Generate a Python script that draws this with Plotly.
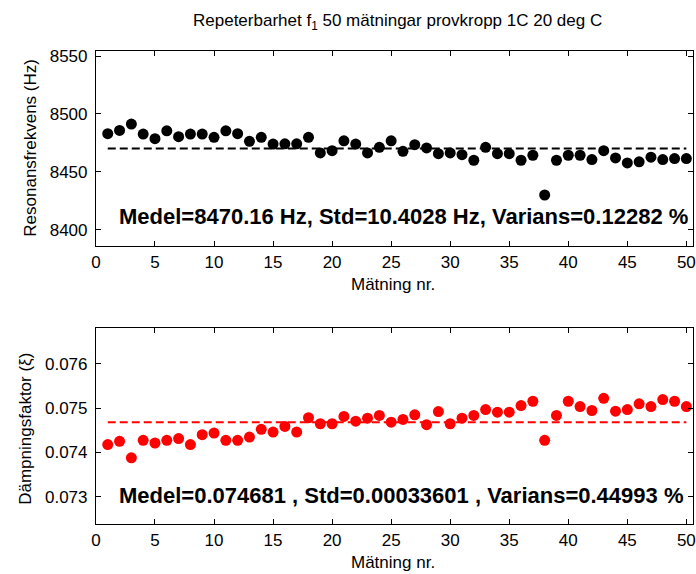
import plotly.graph_objects as go

W, H = 696, 574

matning = list(range(1, 51))
frekvens = [8482.9, 8485.7, 8491.2, 8482.6, 8478.6, 8485.4, 8480.3, 8482.6, 8482.6, 8479.8,
            8485.4, 8482.9, 8476.3, 8479.8, 8474.0, 8474.2, 8474.2, 8479.8, 8466.3, 8468.3,
            8476.8, 8474.0, 8466.3, 8471.2, 8476.8, 8467.7, 8473.4, 8470.6, 8465.7, 8466.3,
            8464.8, 8460.0, 8471.2, 8465.7, 8465.7, 8460.0, 8464.3, 8430.0, 8460.0, 8464.3,
            8464.3, 8460.6, 8468.3, 8462.0, 8457.7, 8458.6, 8462.6, 8460.6, 8461.4, 8461.4]
dampning = [0.074174, 0.074248, 0.073874, 0.074271, 0.074210, 0.074271, 0.074309, 0.074174, 0.074399, 0.074435,
            0.074271, 0.074271, 0.074345, 0.074518, 0.074457, 0.074585, 0.074457, 0.074780, 0.074645, 0.074645,
            0.074809, 0.074704, 0.074771, 0.074832, 0.074681, 0.074742, 0.074847, 0.074623, 0.074921, 0.074645,
            0.074771, 0.074832, 0.074966, 0.074906, 0.074906, 0.075056, 0.075153, 0.074271, 0.074832, 0.075153,
            0.075034, 0.074944, 0.075220, 0.074928, 0.074966, 0.075094, 0.075034, 0.075191, 0.075153, 0.075034]
medel_f = 8470.16
medel_d = 0.074681
text_f = "Medel=8470.16 Hz, Std=10.4028 Hz, Varians=0.12282 %"
text_d = "Medel=0.074681 , Std=0.00033601 , Varians=0.44993 %"
title = "Repeterbarhet f<sub>1</sub> 50 mätningar provkropp 1C 20 deg C"
xticks = list(range(0, 51, 5))
yticks_f = [8400, 8450, 8500, 8550]
yticks_d = [0.073, 0.074, 0.075, 0.076]

FONT = "Liberation Sans, Arial, sans-serif"

fig = go.Figure()
fig.add_trace(go.Scatter(x=matning, y=frekvens, mode="markers",
                         marker=dict(color="black", size=11, line=dict(width=0)),
                         xaxis="x", yaxis="y", showlegend=False))
fig.add_trace(go.Scatter(x=[matning[0], matning[-1]], y=[medel_f, medel_f], mode="lines",
                         line=dict(color="black", width=2, dash="8px,4px"),
                         xaxis="x", yaxis="y", showlegend=False))
fig.add_trace(go.Scatter(x=matning, y=dampning, mode="markers",
                         marker=dict(color="#ff0000", size=11, line=dict(width=0)),
                         xaxis="x2", yaxis="y2", showlegend=False))
fig.add_trace(go.Scatter(x=[matning[0], matning[-1]], y=[medel_d, medel_d], mode="lines",
                         line=dict(color="#ff0000", width=2, dash="8px,4px"),
                         xaxis="x2", yaxis="y2", showlegend=False))

def px(v):
    return v / W

def py(v):
    return 1 - v / H

axcommon = dict(showline=True, linecolor="black", linewidth=1, mirror="ticks",
                ticks="inside", ticklen=5, tickcolor="black", tickwidth=1,
                showgrid=False, zeroline=False, ticklabeloverflow="allow",
                tickfont=dict(family=FONT, size=17, color="black"))

xr = [0, (W - 92) / ((689.3 - 92) / 50)]
fig.update_layout(
    width=W, height=H,
    margin=dict(l=0, r=0, t=0, b=0),
    paper_bgcolor="white", plot_bgcolor="white",
    xaxis=dict(domain=[px(92), 1.0], range=xr, tickvals=xticks, anchor="y", **axcommon),
    yaxis=dict(domain=[py(244), py(47)], range=[8385.7, 8554.6], tickvals=yticks_f,
               anchor="x", ticklabelstandoff=4, **axcommon),
    xaxis2=dict(domain=[px(92), 1.0], range=xr, tickvals=xticks, anchor="y2", **axcommon),
    yaxis2=dict(domain=[py(524), py(326)], range=[0.072372, 0.076814], tickvals=yticks_d,
                tickformat=".3f", anchor="x2", ticklabelstandoff=4, **axcommon),
)

ann = [
    dict(text=title, x=px(397), y=py(18), size=17, bold=False, angle=0, xanchor="center"),
    dict(text="Mätning nr.", x=px(393), y=py(282), size=17, bold=False, angle=0, xanchor="center"),
    dict(text="Mätning nr.", x=px(393), y=py(562), size=17, bold=False, angle=0, xanchor="center"),
    dict(text="Resonansfrekvens (Hz)", x=px(26), y=py(145), size=17, bold=False, angle=-90, xanchor="center"),
    dict(text="Dämpningsfaktor (ξ)", x=px(20), y=py(428), size=17, bold=False, angle=-90, xanchor="center"),
    dict(text=text_f, x=px(113), y=py(214), size=22, bold=True, angle=0, xanchor="left"),
    dict(text=text_d, x=px(113), y=py(495), size=22, bold=True, angle=0, xanchor="left"),
]
for a in ann:
    fig.add_annotation(
        text=("<b>%s</b>" % a["text"]) if a["bold"] else a["text"],
        x=a["x"], y=a["y"], xref="paper", yref="paper",
        xanchor=a["xanchor"], yanchor="middle", showarrow=False, textangle=a["angle"],
        font=dict(family=FONT, size=a["size"], color="black"),
    )

fig.write_html("out.html")
